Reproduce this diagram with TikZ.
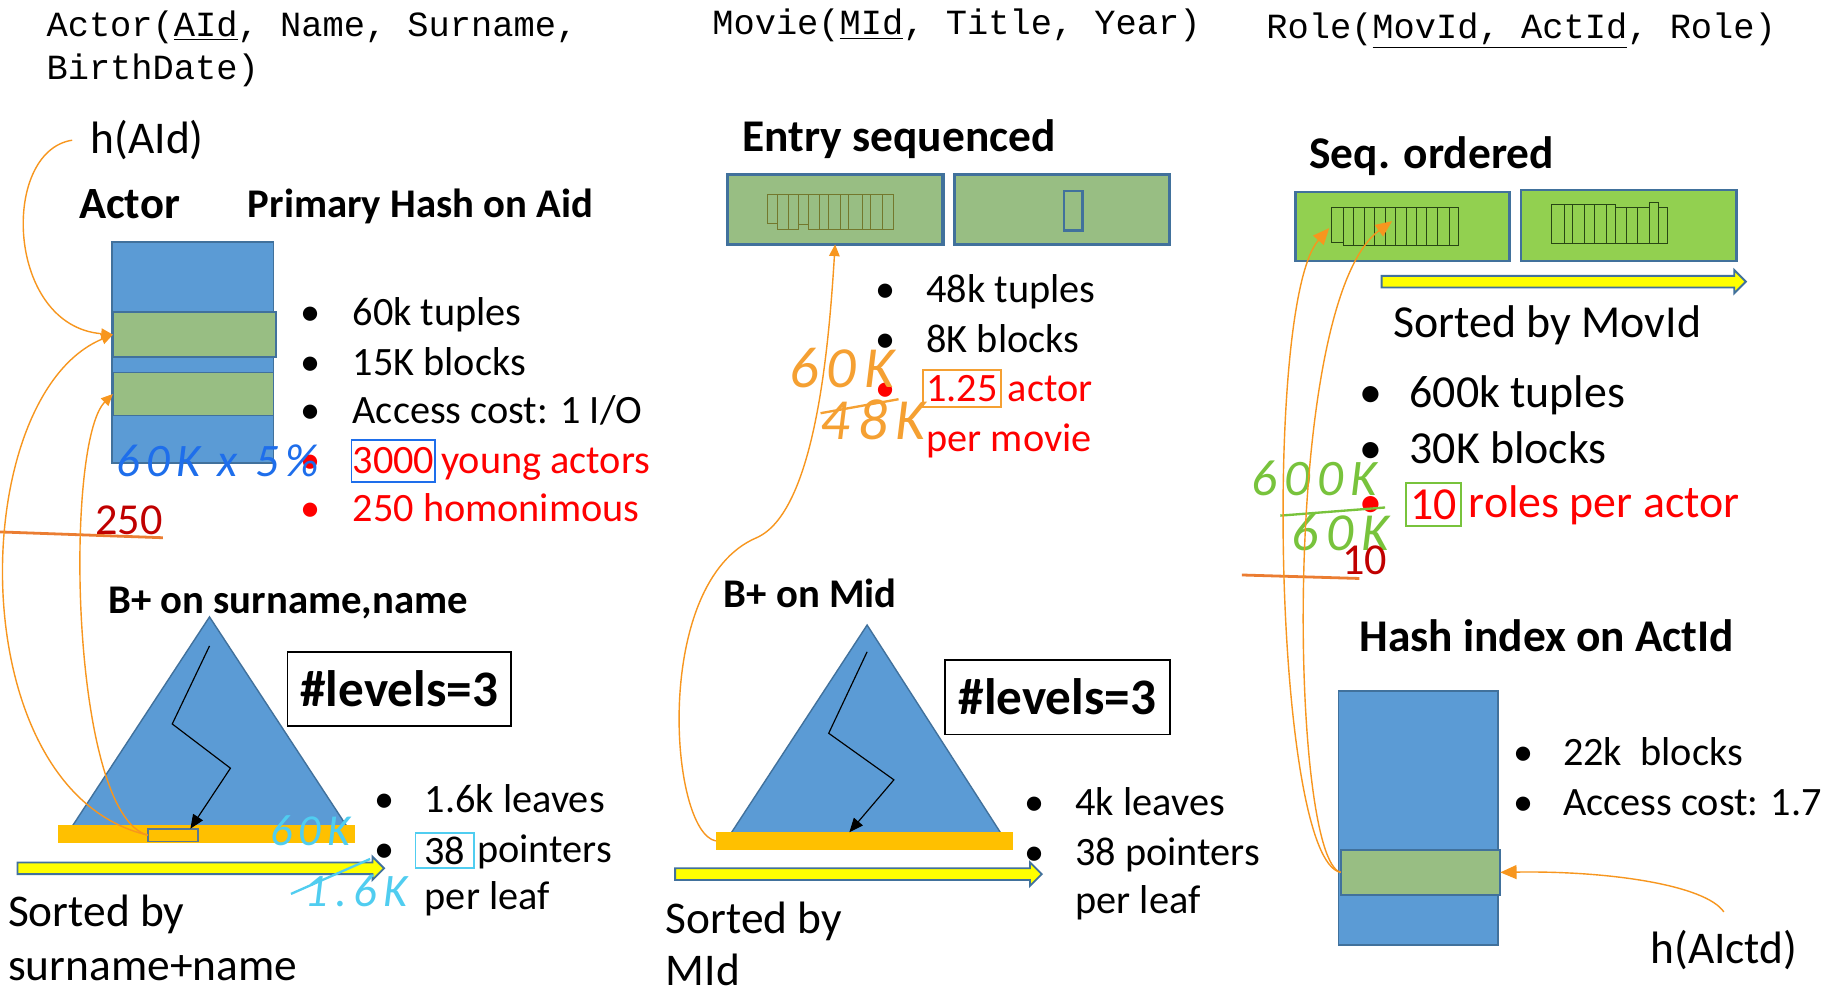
\documentclass[tikz,border=0pt]{standalone}
\usepackage{fontspec}
\setmainfont{Carlito}
\setmonofont{Liberation Mono}
\newfontfamily\handfont[LetterSpace=14]{Carlito}
\usetikzlibrary{arrows.meta,calc}
\definecolor{blueF}{RGB}{91,155,213}
\definecolor{blueD}{RGB}{65,113,156}
\definecolor{sage}{RGB}{152,190,131}
\definecolor{lgreen}{RGB}{146,208,80}
\definecolor{amber}{RGB}{255,192,0}
\definecolor{yel}{RGB}{255,255,0}
\definecolor{orc}{RGB}{247,150,30}
\definecolor{rd}{RGB}{255,0,0}
\definecolor{drd}{RGB}{192,0,0}
\definecolor{hblue}{RGB}{30,110,235}
\definecolor{hcyan}{RGB}{80,205,240}
\definecolor{horange}{RGB}{245,160,50}
\definecolor{hgreen}{RGB}{120,195,60}
\definecolor{oline}{RGB}{235,125,50}
\definecolor{olive}{RGB}{115,120,45}
\definecolor{dgreen}{RGB}{40,70,20}
\tikzset{
  every node/.style={inner sep=0pt, outer sep=0pt},
  txt/.style={anchor=base west, font=\fontsize{17.3}{20}\selectfont},
  txtb/.style={anchor=base west, font=\fontsize{19.7}{23}\selectfont},
  hd/.style={anchor=base west, font=\bfseries\fontsize{19.5}{23}\selectfont},
  hds/.style={anchor=base west, font=\bfseries\fontsize{17.5}{21}\selectfont},
  mono/.style={anchor=base west, font=\ttfamily\fontsize{15.2}{18}\selectfont},
  hand/.style={anchor=base west, font=\handfont\itshape\fontsize{#1}{#1}\selectfont},
  hand/.default=20,
  bluebox/.style={draw=blueD, fill=blueF, line width=0.8pt},
  sagebox/.style={draw=blueD, fill=sage, line width=0.8pt},
  entrybox/.style={draw=blueD, fill=sage, line width=1.5pt},
  seqbox/.style={draw=blueD, fill=lgreen, line width=1pt},
  tri/.style={draw=blueD, fill=blueF, line width=0.6pt},
  leaf/.style={fill=amber},
  yarr/.style={draw=blueD, fill=yel, line width=0.8pt},
  lvl/.style={draw=black, line width=0.7pt, font=\bfseries\fontsize{22}{26}\selectfont},
  link/.style={draw=orc, line width=0.6pt, -{Triangle[length=5pt,width=4.5pt]}},
  bigl/.style={draw=orc, line width=0.6pt, -{Triangle[length=7pt,width=6pt]}},
  walk/.style={draw=black, line width=0.5pt, -{Triangle[length=6pt,width=5pt]}},
  stripe/.style={draw=olive, line width=0.4pt},
  stripeg/.style={draw=dgreen, line width=0.4pt},
  hline/.style={line width=1pt},
}
\newcommand\rbox[6]{\node[#6, minimum width={(#4-#2)*0.5pt}, minimum height={(#5-#3)*0.5pt}] (#1) at ({(#2+#4)/2},{(#3+#5)/2}) {};}
\newcommand\yarrow[3]{\draw[yarr] (#1,#3-5) -- (#2-10,#3-5) -- (#2-10,#3-10) -- (#2,#3) -- (#2-10,#3+10) -- (#2-10,#3+5) -- (#1,#3+5) -- cycle;}
\begin{document}
\begin{tikzpicture}[x=0.5pt,y=-0.5pt]
\useasboundingbox (0,0) rectangle (1568,859);
\fill[white] (0,0) rectangle (1568,859);

% ---------- schemas
\node[mono] (sA) at (40,31) {Actor(\underline{AId}, Name, Surname,};
\node[mono] (sA2) at (40,68) {BirthDate)};
\node[mono] (sM) at (612,30) {Movie(\underline{MId}, Title, Year)};
\node[mono] (sR) at (1088,33) {Role(\underline{MovId, ActId}, Role)};

% ---------- Actor hash
\node[txtb, font=\fontsize{19.5}{23}\selectfont] (hA) at (78,132) {h(AId)};
\node[hd, font=\bfseries\fontsize{19.2}{23}\selectfont] (tA) at (68,188) {Actor};
\node[hds] (tPH) at (213,187) {Primary Hash on Aid};
\rbox{act}{96}{208}{235}{398}{bluebox}
\rbox{ag1}{97}{268}{237}{307}{sagebox}
\rbox{ag2}{97}{320}{235}{357}{sagebox}
\foreach \y/\c in {280/black,323/black,364/black,407/rd,448/rd}
  \node[txt, text=\c] at (258,\y) {•};
\node[txt] (a1) at (303,280) {60k tuples};
\node[txt] (a2) at (303,323) {15K blocks};
\node[txt] (a3) at (303,364) {Access cost: 1 I/O};
\node[draw=hblue, line width=0.8pt, minimum width=36pt, minimum height=18pt, text=rd, font=\fontsize{17.3}{20}\selectfont] (b3000) at (338,396) {3000};
\node[txt, text=rd] (a4) at (379,407) {young actors};
\node[txt, text=rd] (a5) at (303,448) {250 homonimous};
\node[hand=20, text=hblue] (hw1) at (100,409) {60K x 5\%};
\node[anchor=base west, text=drd, font=\fontsize{19}{22}\selectfont] (n250) at (82,459) {250};
\draw[oline, line width=1.2pt] (0,457) -- (140,462);

% ---------- B+ on surname,name
\node[hds] (tB1) at (93,527) {B+ on surname,name};
\coordinate (ta) at (180,530); \coordinate (tl) at (62,710); \coordinate (tr) at (298,710);
\draw[tri] (ta) -- (tl) -- (tr) -- cycle;
\rbox{leafL}{50}{709}{305}{724}{leaf}
\rbox{lbox}{127}{712}{170}{723}{draw=blueD!60!gray, fill=amber, line width=0.8pt}
\draw[walk] (180,555) -- (148,622) -- (198,660) -- ($(lbox.north west)!0.85!(lbox.north east)$);
\node[lvl, minimum width=96pt, minimum height=32pt] (lv1) at (343,592) {\#levels=3};
\yarrow{15}{330}{746}
\node[txtb, font=\fontsize{19.5}{23}\selectfont] at (7,796) {Sorted by};
\node[txtb, font=\fontsize{19.5}{23}\selectfont] at (7,842) {surname+name};
\foreach \y in {698,741} \node[txt] at (322,\y) {•};
\node[txt] at (365,698) {1.6k leaves};
\node[draw=hcyan, line width=0.8pt, minimum width=25pt, minimum height=15pt, font=\fontsize{17.3}{20}\selectfont] (b38) at (382,731) {38};
\node[txt] at (410,741) {pointers};
\node[txt] at (365,781) {per leaf};
\node[hand=19, text=hcyan] at (232,726) {60K};
\draw[hcyan, hline] (250,768) -- (318,738);
\node[hand=20, text=hcyan] at (262,779) {1.6K};

% links into actor hash
\draw[link] ([xshift=-8pt]hA.west) .. controls (0,130) and (5,280) .. (ag1.west);
\draw[link] (lbox.west) .. controls (-35,680) and (-30,340) .. (ag1.west);
\draw[link] (lbox.west) .. controls (60,700) and (55,380) .. (ag2.west);

% ---------- Movie entry sequenced
\node[hd] (tE) at (638,130) {Entry sequenced};
\rbox{e1}{625}{150}{810}{210}{entrybox}
\rbox{e2}{820}{150}{1005}{210}{entrybox}
\foreach \a/\b/\u in {659/668/192,668/677/197,677/686/197,686/695/193,695/704/197,704/712/197,712/722/197,722/729/197,729/741/197,741/748/197,748/758/197,758/768/197}
  \draw[stripe] (\a,167) rectangle (\b,\u);
\rbox{e2s}{914}{164}{930}{198}{draw=blueD, line width=1pt}
\foreach \y/\c in {260/black,303/black,345/rd} \node[txt, text=\c] at (752,\y) {•};
\node[txt] at (796,260) {48k tuples};
\node[txt] at (796,303) {8K blocks};
\node[draw=horange, line width=0.8pt, minimum width=33.5pt, minimum height=16pt, text=rd, font=\fontsize{17.3}{20}\selectfont] (b125) at (826.5,334) {1.25};
\node[txt, text=rd] at (866,345) {actor};
\node[txt, text=rd] at (796,388) {per movie};
\node[hand=25, text=horange] at (678,333) {60K};
\draw[horange, hline] (705,355) -- (772,343);
\node[hand=25, text=horange] at (705,378) {48K};

% ---------- B+ on Mid
\node[hds] (tB2) at (622,522) {B+ on Mid};
\coordinate (ma) at (745,537); \coordinate (ml) at (628,716); \coordinate (mr) at (860,716);
\draw[tri] (ma) -- (ml) -- (mr) -- cycle;
\rbox{leafM}{615}{715}{870}{730}{leaf}
\draw[walk] (745,560) -- (712,630) -- (768,670) -- ($(leafM.north west)!0.45!(leafM.north east)$);
\node[lvl, minimum width=96.5pt, minimum height=32pt] (lv2) at (908.5,599) {\#levels=3};
\yarrow{580}{895}{751}
\node[txtb, font=\fontsize{19.5}{23}\selectfont] at (572,802) {Sorted by};
\node[txtb, font=\fontsize{19.5}{23}\selectfont] at (572,847) {MId};
\foreach \y in {701,744} \node[txt] at (880,\y) {•};
\node[txt] at (924,701) {4k leaves};
\node[txt] at (924,744) {38 pointers};
\node[txt] at (924,785) {per leaf};
\draw[link] (leafM.west) .. controls (575,715) and (560,500) .. (650,462) .. controls (700,440) and (712,300) .. (e1.south);

% ---------- Role seq ordered
\node[hd] (tS) at (1125,145) {Seq. ordered};
\rbox{s1}{1113}{165}{1297}{224}{seqbox}
\rbox{s2}{1307}{163}{1492}{224}{seqbox}
\foreach \a/\b/\t/\u in {1144/1154/178/208,1154/1163/178/211,1163/1172/178/211,1172/1181/178/211,1181/1190/178/211,1190/1199/178/211,1199/1208/178/211,1208/1217/178/211,1217/1226/178/211,1226/1235/178/211,1235/1245/178/211,1245/1253/178/211}
  \draw[stripeg] (\a,\t) rectangle (\b,\u);
\foreach \a/\b/\t/\u in {1333/1344/176/209,1344/1351/176/209,1351/1361/176/209,1361/1370/176/209,1370/1380/176/209,1380/1388/176/209,1388/1397/178/209,1397/1407/178/209,1407/1417/178/209,1417/1425/174/209,1425/1433/178/209}
  \draw[stripeg] (\a,\t) rectangle (\b,\u);
\coordinate (s1a) at (1142,196);
\coordinate (s1b) at (1196,190);
\yarrow{1187}{1500}{242}
\node[txtb] at (1197,290) {Sorted by MovId};
\foreach \y/\c in {350/black,398/black,445/rd} \node[txtb, text=\c] at (1168,\y) {•};
\node[txtb] at (1211,350) {600k tuples};
\node[txtb] at (1211,398) {30K blocks};
\node[draw=hgreen, line width=0.8pt, minimum width=23.5pt, minimum height=18.5pt, text=rd, font=\fontsize{19.7}{23}\selectfont] (b10) at (1231.5,433.5) {10};
\node[txtb, text=rd] at (1262,445) {roles per actor};
\node[hand=22, text=hgreen] at (1075,426) {600K};
\draw[hgreen, hline] (1100,443) -- (1190,436);
\node[hand=23, text=hgreen] at (1110,473) {60K};
\node[anchor=base west, text=drd, font=\fontsize{19}{22}\selectfont] (n10) at (1153,494) {10};
\draw[oline, line width=1.2pt] (1067,494) -- (1168,497);

% ---------- Hash index on ActId
\node[hd] (tH) at (1168,560) {Hash index on ActId};
\rbox{hx}{1150}{594}{1287}{812}{bluebox}
\rbox{hg}{1152}{730}{1289}{769}{sagebox}
\foreach \y in {658,701} \node[txt] at (1300,\y) {•};
\node[txt] at (1343,658) {22k\ \ blocks};
\node[txt] at (1343,701) {Access cost: 1.7};
\node[txtb, font=\fontsize{19.5}{23}\selectfont] (hB) at (1418,828) {h(AIctd)};
\draw[bigl] ([yshift=8pt]hB.north) .. controls (1465,760) and (1380,748) .. (hg.east);
\draw[bigl] (hg.west) .. controls (1095,740) and (1085,260) .. (s1a);
\draw[bigl] (hg.west) .. controls (1108,740) and (1100,260) .. (s1b);
\end{tikzpicture}
\end{document}
